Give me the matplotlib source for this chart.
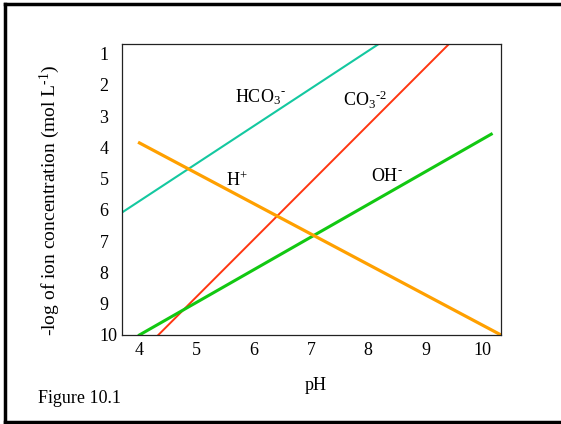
#ion_plot.py: -log of ion concentration vs pH (Figure 10.1)

import matplotlib.pyplot as plt
from matplotlib.lines import Line2D

plt.rcParams['font.family'] = ['Liberation Serif', 'DejaVu Serif']
plt.rcParams['mathtext.fontset'] = 'custom'
plt.rcParams['mathtext.rm'] = 'Liberation Serif'
plt.rcParams['mathtext.it'] = 'Liberation Serif'

#line end points (pH, -log conc)
hco3_ph = [3.69, 8.18]
hco3_c = [6.09, 0.70]
co3_ph = [4.33, 9.41]
co3_c = [10.0, 0.70]
oh_ph = [4.0, 10.15]
oh_c = [10.0, 3.58]
h_ph = [4.0, 10.32]
h_c = [3.86, 10.0]

xticks = [4, 5, 6, 7, 8, 9, 10]
yticks = [1, 2, 3, 4, 5, 6, 7, 8, 9, 10]

HY = '\u2010'  # short hyphen, mathtext turns '-' into a long minus

fig = plt.figure(figsize=(5.61, 4.24), dpi=100)
ax = fig.add_axes([0.217, 0.21, 0.676, 0.686])

ax.plot(hco3_ph, hco3_c, color='#14C8A0', lw=1.5)
ax.plot(co3_ph, co3_c, color='#FF3510', lw=1.4)
ax.plot(oh_ph, oh_c, color='#12C812', lw=2.2)
ax.plot(h_ph, h_c, color='#FFA000', lw=2.3)

ax.set_xlim(3.69, 10.32)
ax.set_ylim(10, 0.70)
ax.set_xticks(xticks)
ax.set_yticks(yticks)
ax.tick_params(length=0, labelsize=13)
ax.tick_params(axis='x', pad=5)
ax.tick_params(axis='y', pad=16)
for t in ax.get_yticklabels():
    t.set_horizontalalignment('left')
for s in ax.spines.values():
    s.set_linewidth(0.9)
    s.set_color('#222222')

ax.text(5.67, 2.55, 'HCO$_3$$^{' + HY + '}$', fontsize=13, ha='left', va='baseline')
ax.text(7.56, 2.68, 'CO$_3$$^{' + HY + '2}$', fontsize=13, ha='left', va='baseline')
ax.text(5.51, 5.23, r'H$^{+}$', fontsize=13, ha='left', va='baseline')
ax.text(8.05, 5.07, 'OH$^{' + HY + '}$', fontsize=13, ha='left', va='baseline')

ax.set_xlabel('pH', fontsize=13)
ax.xaxis.set_label_coords(0.511, -0.145)
ax.set_ylabel('-log of ion concentration (mol L$^{' + HY + '1}$)', fontsize=14)
ax.yaxis.set_label_coords(-0.157, 0.464)

fig.text(0.068, 0.0495, 'Figure 10.1', fontsize=13, ha='left', va='baseline')

#outer frame: left, top and bottom edges (right edge falls outside the image)
fx = 0.0085
fy0, fy1 = 0.004, 0.991
for xs, ys in [([fx, fx], [fy0, fy1]), ([fx, 1.01], [fy1, fy1]), ([fx, 1.01], [fy0, fy0])]:
    fig.add_artist(Line2D(xs, ys, transform=fig.transFigure, color='black',
                          lw=2.5, solid_capstyle='projecting'))

plt.savefig('out.png', dpi=100)
